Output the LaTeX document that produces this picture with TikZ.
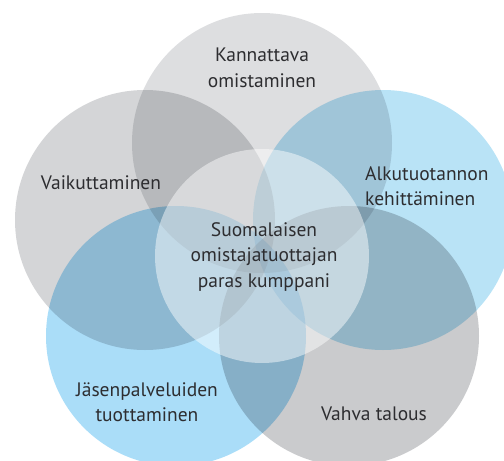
\documentclass[tikz,border=0pt]{standalone}
\usepackage{fontspec}
\setmainfont{PT Sans}
\definecolor{greytop}{RGB}{221,222,224}
\definecolor{greyleft}{RGB}{212,213,215}
\definecolor{greyright}{RGB}{202,203,205}
\definecolor{blueright}{RGB}{185,227,246}
\definecolor{blueleft}{RGB}{170,221,248}
\definecolor{textgrey}{RGB}{45,45,48}
\tikzset{
  ring/.style={blend mode=multiply},
  label/.style={text=textgrey, font=\fontsize{19.5}{25.5}\selectfont, align=center, inner sep=0pt}
}
\begin{document}
\begin{tikzpicture}[x=1pt,y=-1pt]
\useasboundingbox (0,0) rectangle (504,461);

\fill[ring, greytop]   (262,143) circle (130);
\fill[ring, greyleft]  (145,220) circle (130);
\fill[ring, blueright] (383,220) circle (130);
\fill[ring, blueleft]  (176,336) circle (130);
\fill[ring, greyright] (349,336) circle (130);

\fill[white, fill opacity=0.47] (262,256) circle (107);

\node[label] (owning) at (262,68) {Kannattava\\omistaminen};
\node[label] (influence) at (101,183) {Vaikuttaminen};
\node[label, align=left, anchor=west] (production) at (365,186) {Alkutuotannon\\kehittäminen};
\node[label] (partner) at (264,257) {Suomalaisen\\omistajatuottajan\\paras kumppani};
\node[label] (services) at (147,402) {Jäsenpalveluiden\\tuottaminen};
\node[label] (economy) at (374,414) {Vahva talous};

\end{tikzpicture}
\end{document}
